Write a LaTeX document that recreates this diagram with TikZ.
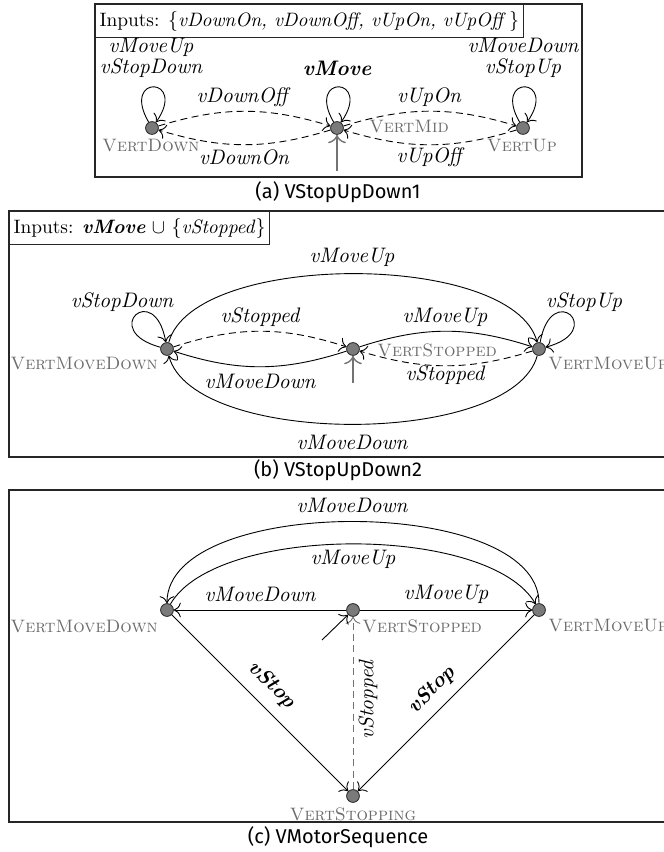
\documentclass[tikz,border=0pt]{standalone}
\usepackage{fontspec}
\newfontfamily\capfont{Fira Sans}
\usetikzlibrary{arrows.meta}
\begin{document}
\begin{tikzpicture}[x=0.5pt,y=0.5pt,
  st/.style={circle,draw=black!85,fill=black!52,minimum size=6.4pt,inner sep=0pt,line width=0.4pt},
  lb/.style={font=\fontsize{10.5}{10.5}\selectfont\itshape,inner sep=0pt},
  blb/.style={font=\fontsize{10.5}{10.5}\selectfont\bfseries\itshape,inner sep=0pt},
  sn/.style={text=black!58,font=\fontsize{9}{11}\selectfont\scshape,inner sep=0pt},
  tr/.style={-{To[scale=1.35]},line width=0.45pt},
  dtr/.style={tr,dash pattern=on 3.5pt off 2.2pt},
  ini/.style={-{To[scale=1.35]},draw=black!55,line width=0.7pt},
  panel/.style={draw=black!85,line width=0.55pt},
  inp/.style={draw=black!85,line width=0.55pt,anchor=north west,inner xsep=2pt,minimum height=15pt,font=\fontsize{9.7}{11.6}\selectfont},
  capt/.style={font=\capfont\fontsize{10}{12}\selectfont,inner sep=0pt}]
\useasboundingbox (0,0) rectangle (664,852);

% ---------------- panel (a)
\draw[panel] (95,675) rectangle (582,848);
\node[inp] (inA) at (95,848) {Inputs: $\{$\textit{vDownOn, vDownOff, vUpOn, vUpOff}$\,\}$};
\node[st] (vd) at (152,724) {};
\node[st] (vm) at (337,724) {};
\node[st] (vu) at (523,724) {};
\node[sn] (lvd) at (151,706) {VertDown};
\node[sn] (lvm) at (409,725) {VertMid};
\node[sn] (lvu) at (522,706) {VertUp};
\node[lb,align=center] (a1) at (151,794) {vMoveUp\\vStopDown};
\node[blb] (a2) at (337,784) {vMove};
\node[lb,align=center] (a3) at (523,794) {vMoveDown\\vStopUp};
\node[lb] (a4) at (242,755) {vDownOff};
\node[lb] (a5) at (244,695) {vDownOn};
\node[lb] (a6) at (429,755) {vUpOn};
\node[lb] (a7) at (429,695) {vUpOff};
\draw[tr] (vd) to[out=120,in=55,looseness=1,min distance=28pt] (vd);
\draw[tr] (vm) to[out=120,in=55,looseness=1,min distance=28pt] (vm);
\draw[tr] (vu) to[out=120,in=55,looseness=1,min distance=28pt] (vu);
\draw[dtr] (vd) to[bend left=17] (vm);
\draw[dtr] (vm) to[bend left=17] (vd);
\draw[dtr] (vm) to[bend left=17] (vu);
\draw[dtr] (vu) to[bend left=17] (vm);
\coordinate (ia) at (337,681);
\draw[ini] (ia) -- (vm);
\node[capt] (capa) at (338,660) {(a) VStopUpDown1};

% ---------------- panel (b)
\draw[panel] (9,395) rectangle (667,641);
\node[inp] (inB) at (9,641) {Inputs: \textbf{\textit{vMove}} $\cup$ $\{$\textit{vStopped}$\}$};
\node[st] (bmd) at (167,503) {};
\node[st] (bs) at (353,503) {};
\node[st] (bmu) at (539,503) {};
\node[sn,anchor=east] (lbmd) at (158,488) {VertMoveDown};
\node[sn,anchor=west] (lbs) at (377,502) {VertStopped};
\node[sn,anchor=west] (lbmu) at (548,488) {VertMoveUp};
\node[lb] (b1) at (122,550) {vStopDown};
\node[lb] (b2) at (584,550) {vStopUp};
\node[lb] (b3) at (352,595) {vMoveUp};
\node[lb] (b4) at (352,410) {vMoveDown};
\node[lb] (b5) at (260,535) {vStopped};
\node[lb] (b6) at (260,471) {vMoveDown};
\node[lb] (b7) at (445,535) {vMoveUp};
\node[lb] (b8) at (445,477) {vStopped};
\draw[tr] (bmd) to[out=165,in=100,looseness=1,min distance=32pt] (bmd);
\draw[tr] (bmu) to[out=80,in=15,looseness=1,min distance=32pt] (bmu);
\draw[tr] (bmd) to[out=75,in=105,looseness=0.66] (bmu);
\draw[tr] (bmu) to[out=-105,in=-75,looseness=0.66] (bmd);
\draw[dtr] (bmd) to[bend left=18] (bs);
\draw[tr] (bs) to[bend left=18] (bmd);
\draw[tr] (bs) to[bend left=18] (bmu);
\draw[dtr] (bmu) to[bend left=17] (bs);
\coordinate (ib) at (353,469);
\draw[ini] (ib) -- (bs);
\node[capt] (capb) at (338,382) {(b) VStopUpDown2};

% ---------------- panel (c)
\draw[panel] (9,30) rectangle (667,362);
\node[st] (cmd) at (167,242) {};
\node[st] (cs) at (353,242) {};
\node[st] (cmu) at (539,242) {};
\node[st] (csg) at (353,56) {};
\node[sn,anchor=east] (lcmd) at (158,225) {VertMoveDown};
\node[sn,anchor=west] (lcs) at (362,226) {VertStopped};
\node[sn,anchor=west] (lcmu) at (548,226) {VertMoveUp};
\node[sn] (lcsg) at (353,38) {VertStopping};
\node[lb] (c1) at (352,347) {vMoveDown};
\node[lb] (c2) at (353,293) {vMoveUp};
\node[lb] (c3) at (260,258) {vMoveDown};
\node[lb] (c4) at (446,258) {vMoveUp};
\node[blb,rotate=-45] (c5) at (272,167) {vStop};
\node[blb,rotate=45] (c6) at (432,162) {vStop};
\node[lb,rotate=90] (c7) at (368,152) {vStopped};
\draw[tr] (cmu) to[out=90,in=90,looseness=0.75] (cmd);
\draw[tr] (cmd) to[out=60,in=120,looseness=0.65] (cmu);
\draw[tr] (cs) -- (cmd);
\draw[tr] (cs) -- (cmu);
\draw[tr] (cmd) -- (csg);
\draw[tr] (cmu) -- (csg);
\draw[dtr,draw=black!55] (csg) -- (cs);
\coordinate (ic) at (322,212);
\draw[tr] (ic) -- (cs);
\node[capt] (capc) at (338,15) {(c) VMotorSequence};
\end{tikzpicture}
\end{document}
